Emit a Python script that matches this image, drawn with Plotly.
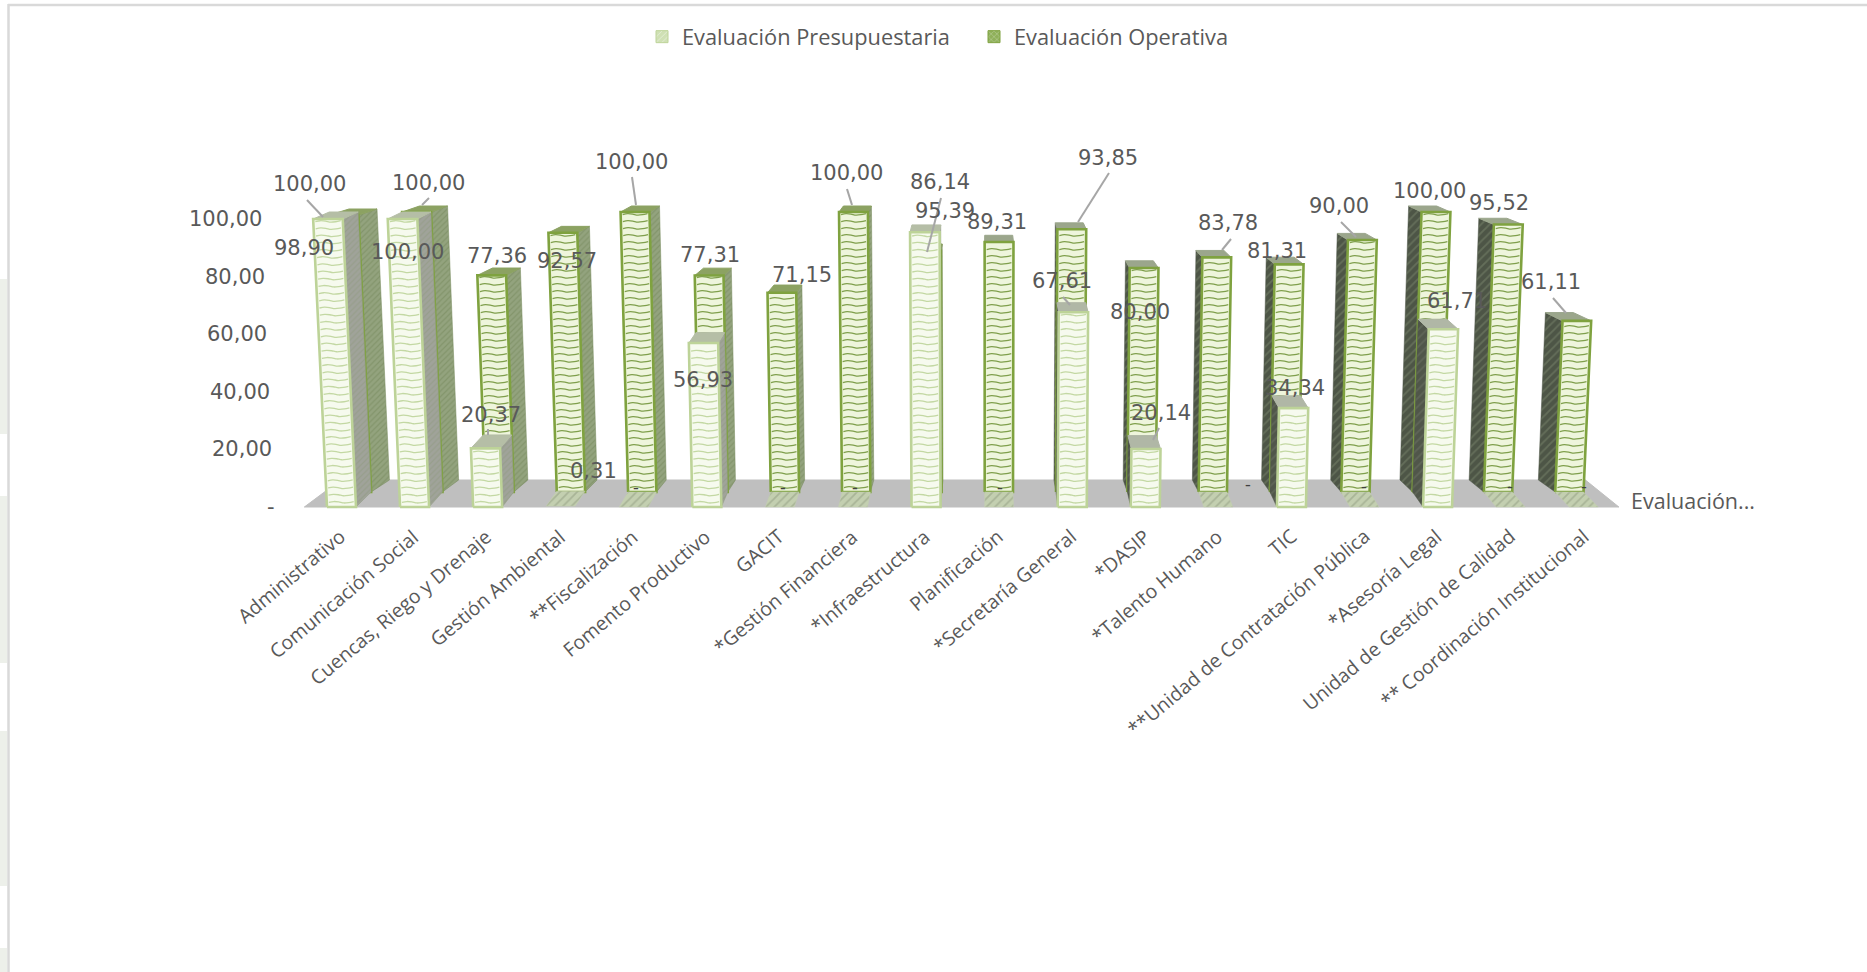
import plotly.graph_objects as go

# ---- data -------------------------------------------------------------
categories = ["Administrativo", "Comunicación Social", "Cuencas, Riego y Drenaje",
              "Gestión Ambiental", "**Fiscalización", "Fomento Productivo", "GACIT",
              "*Gestión Financiera", "*Infraestructura", "Planificación",
              "*Secretaría General", "*DASIP", "*Talento Humano", "TIC",
              "**Unidad de Contratación Pública", "*Asesoría Legal",
              "Unidad de Gestión de Calidad", "** Coordinación Institucional"]
presupuestaria = [100.00, 100.00, 20.37, 0.31, 0, 56.93, 0, 0, 95.39, 0,
                  67.61, 20.14, 0, 34.34, 0, 61.71, 0, 0]
operativa = [98.90, 100.00, 77.36, 92.57, 100.00, 77.31, 71.15, 100.00, 86.14, 89.31,
             93.85, 80.00, 83.78, 81.31, 90.00, 100.00, 95.52, 61.11]
y_ticks = [0, 20, 40, 60, 80, 100]
y_tick_labels = ["-", "20,00", "40,00", "60,00", "80,00", "100,00"]
series_names = ["Evaluación Presupuestaria", "Evaluación Operativa"]
depth_label = "Evaluación..."

# ---- perspective model of the 3-D column chart -------------------------
W, H = 1867, 972
VANISH_X = 987
BASE_Y = {0: 507, 1: 492, 2: 480}
UNIT_Y = {0: 2.88, 1: 2.80, 2: 2.74}
SCALE = {0: 1.0, 1: 0.976, 2: 0.947}
SLOT, FIRST_LEFT, BAR_W = 73.07, 327, 29
LEAN = 0.00021
WAVE_STEP = 2.5                        # value units between texture lines
WAVE_SHAPE = [(0.0, 0.1), (0.2, 0.4), (0.4, 0.25), (0.6, -0.1), (0.8, 0.05), (1.0, 0.4)]


def py(y_px):
    """pixel row -> value on the y axis"""
    return (BASE_Y[0] - y_px) / UNIT_Y[0]


def project(pos, value, depth):
    """slot position, value and depth -> axis coordinates"""
    x = VANISH_X + (FIRST_LEFT + SLOT * pos - VANISH_X) * SCALE[depth]
    x += (x - VANISH_X) * LEAN * value
    return x, py(BASE_Y[depth] - value * UNIT_Y[depth])


def poly(points):
    xs, ys = zip(*points)
    return list(xs) + [xs[0], None], list(ys) + [ys[0], None]


def add_polys(fig, polys, line, bg=None, fg=None, shape=None, size=6, sol=0.3, lw=1.0):
    xs, ys = [], []
    for p in polys:
        a, b = poly(p)
        xs += a
        ys += b
    if not xs:
        return
    kw = {}
    if shape:
        kw["fillpattern"] = dict(shape=shape, bgcolor=bg, fgcolor=fg, size=size, solidity=sol)
    fig.add_trace(go.Scatter(x=xs, y=ys, mode="lines", fill="toself", fillcolor=bg,
                             line=dict(color=line, width=lw), showlegend=False,
                             hoverinfo="skip", **kw))


def add_waves(fig, bars, depth, color, width):
    """wavy texture across the front face of each bar"""
    w = BAR_W / SLOT
    xs, ys = [], []
    for i, v in bars:
        level = WAVE_STEP * 0.6
        while level < v - 0.8:
            for frac, off in WAVE_SHAPE:
                x, y = project(i + 0.07 * w + 0.86 * w * frac, level + off, depth)
                xs.append(x)
                ys.append(y)
            xs.append(None)
            ys.append(None)
            level += WAVE_STEP
    if xs:
        fig.add_trace(go.Scatter(x=xs, y=ys, mode="lines",
                                 line=dict(color=color, width=width, shape="spline", smoothing=0.8),
                                 showlegend=False, hoverinfo="skip"))


def bar_faces(i, v, d0):
    w = BAR_W / SLOT
    d1 = d0 + 1
    fl, fr = project(i, v, d0), project(i + w, v, d0)
    fl0, fr0 = project(i, 0, d0), project(i + w, 0, d0)
    bl, br = project(i, v, d1), project(i + w, v, d1)
    bl0, br0 = project(i, 0, d1), project(i + w, 0, d1)
    front = [fl0, fr0, fr, fl]
    top = [fl, fr, br, bl]
    right = [fr0, br0, br, fr]
    left = [fl0, bl0, bl, fl]
    return front, top, left, right


fig = go.Figure()

# floor
n = len(categories)
add_polys(fig, [[project(-0.31, 0, 0), project(n - 1 + 0.68, 0, 0),
                 project(n - 1 + 0.68, 0, 2), project(-0.31, 0, 2)]], "#BFBFBF", bg="#BFBFBF")

STYLE = [
    dict(front_bg="#F6FAEE", wave="#C3D8A3", wave_w=1.3, edge="#BDD398", top_l="#B5BEA6", top_r="#B0B7A6",
         side_r=("#A0A39A", "#8E9A7E"), side_l=("#50564A", "#6E7465")),
    dict(front_bg="#EEF5DC", wave="#7F9F4C", wave_w=1.3, edge="#7FA23F", top_l="#8CA262", top_r="#9BA68C",
         side_r=("#93A37E", "#74885A"), side_l=("#4D5546", "#7C886D")),
]

for values, d0, st in ((operativa, 1, STYLE[1]), (presupuestaria, 0, STYLE[0])):
    idx = range(n)
    visible = [i for i in idx if values[i] > 0.5]
    faces = {i: bar_faces(i, values[i], d0) for i in idx}
    right_side = [faces[i][3] for i in visible if FIRST_LEFT + SLOT * i + BAR_W < VANISH_X]
    left_side = [faces[i][2] for i in visible if FIRST_LEFT + SLOT * i > VANISH_X]
    add_polys(fig, right_side, st["side_r"][1], st["side_r"][0], st["side_r"][1], "/", 4, 0.3, 0.5)
    add_polys(fig, left_side, st["side_l"][0], st["side_l"][0], st["side_l"][1], "/", 6, 0.3, 0.5)
    add_polys(fig, [faces[i][1] for i in visible if i < 9], st["top_l"], st["top_l"], lw=1)
    add_polys(fig, [faces[i][1] for i in visible if i >= 9], st["top_r"], st["top_r"], lw=1)
    flat = [faces[i][1] for i in idx if i not in visible]
    add_polys(fig, flat, "#C3CFB0", "#C3CFB0", "#8E9A7E", "/", 6, 0.3, 0.5)
    add_polys(fig, [faces[i][0] for i in visible], st["edge"], st["front_bg"], lw=2.6)
    add_waves(fig, [(i, values[i]) for i in visible], d0, st["wave"], st["wave_w"])

# legend keys
fig.add_trace(go.Bar(x=[None], y=[None], name=series_names[0],
                     marker=dict(color="#E6F0D6", line=dict(color="#BDD398", width=1),
                                 pattern=dict(shape="/", fgcolor="#FFFFFF", bgcolor="#CFE0B4", size=5))))
fig.add_trace(go.Bar(x=[None], y=[None], name=series_names[1],
                     marker=dict(color="#A9C47F", line=dict(color="#7FA23F", width=1),
                                 pattern=dict(shape="x", fgcolor="#FFFFFF", bgcolor="#8FB05A", size=5))))

# ---- text -------------------------------------------------------------
TXT = "#595959"
VAL_FONT = dict(family="DejaVu Sans", size=21, color=TXT)
CAT_FONT = dict(family="Open Sans", size=19.5, color=TXT)

annotations = []
for tick, lab in zip(y_ticks, y_tick_labels):
    annotations.append(dict(x=277 - tick * 0.13, y=tick, text=lab, showarrow=False, xanchor="right",
                            yanchor="middle", font=VAL_FONT))

for i, c in enumerate(categories):
    annotations.append(dict(x=FIRST_LEFT + SLOT * i + 27, y=py(520), text=c, showarrow=False,
                            textangle=-40, xanchor="right", yanchor="top", font=CAT_FONT))

annotations.append(dict(x=1629, y=py(500), text=depth_label, showarrow=False, xanchor="left",
                        yanchor="middle", font=dict(family="Open Sans", size=21.5, color=TXT)))


def fmt(v):
    return f"{v:.2f}".replace(".", ",")


# label placement in picture pixels: centre, optional leader line
PLACE_OP = {0: (304, 248), 1: (407, 252), 2: (497, 256), 3: (567, 261),
            4: (631, 162, 632, 177, 636, 205), 5: (710, 255), 6: (802, 275),
            7: (846, 173, 847, 189, 852, 205), 8: (940, 182, 941, 198, 927, 252),
            9: (997, 222), 10: (1108, 158, 1109, 173, 1078, 222), 11: (1140, 312),
            12: (1228, 223, 1231, 239, 1222, 250), 13: (1277, 251),
            14: (1339, 206, 1341, 222, 1356, 237), 15: (1429, 191), 16: (1499, 203),
            17: (1551, 282, 1553, 298, 1566, 313)}
PLACE_PR = {0: (309, 184, 307, 200, 323, 217), 1: (428, 183, 429, 198, 422, 205),
            2: (491, 415, 488, 429, 488, 435), 3: (593, 471), 5: (703, 380), 8: (945, 211),
            10: (1062, 281, 1063, 297, 1070, 305), 11: (1161, 413, 1159, 428, 1153, 440),
            13: (1295, 388), 15: (1457, 301)}
PLACE_ZERO = {4: (636, 487), 6: (783, 487), 7: (855, 487), 9: (1000, 487), 12: (1248, 484),
              14: (1364, 486), 16: (1510, 486), 17: (1584, 486)}

lead_x, lead_y = [], []
for values, place in ((operativa, PLACE_OP), (presupuestaria, PLACE_PR)):
    for i, p in place.items():
        annotations.append(dict(x=p[0], y=py(p[1]), text=fmt(values[i]), showarrow=False,
                                xanchor="center", yanchor="middle", font=VAL_FONT))
        if len(p) > 2:
            lead_x += [p[2], p[4], None]
            lead_y += [py(p[3]), py(p[5]), None]
for i, p in PLACE_ZERO.items():
    annotations.append(dict(x=p[0], y=py(p[1]), text="-", showarrow=False, xanchor="center",
                            yanchor="middle", font=dict(family="Open Sans", size=18, color="#404040")))

fig.add_trace(go.Scatter(x=lead_x, y=lead_y, mode="lines", line=dict(color="#A6A6A6", width=2),
                         showlegend=False, hoverinfo="skip"))

# page frame and faint background bands at the left edge
bands = [(279, 434), (496, 663), (731, 886), (948, 972)]
shapes = [dict(type="rect", xref="paper", yref="paper", x0=0, x1=7 / W, y0=1 - b / H, y1=1 - a / H,
               fillcolor="#EDF0EA", line_width=0, layer="below") for a, b in bands]
shapes += [
    dict(type="line", xref="paper", yref="paper", x0=8 / W, x1=1, y0=1 - 5 / H, y1=1 - 5 / H,
         line=dict(color="#D9D9D9", width=2.5)),
    dict(type="line", xref="paper", yref="paper", x0=8.5 / W, x1=8.5 / W, y0=0, y1=1 - 4 / H,
         line=dict(color="#D9D9D9", width=2.5)),
]

fig.update_layout(
    width=W, height=H, margin=dict(l=0, r=0, t=0, b=0),
    paper_bgcolor="white", plot_bgcolor="white",
    xaxis=dict(range=[0, W], visible=False, fixedrange=True),
    yaxis=dict(range=[py(H), py(0)], visible=False, fixedrange=True),
    annotations=annotations, shapes=shapes, barmode="overlay",
    legend=dict(orientation="h", x=642 / W, xanchor="left", y=1 - 37 / H, yanchor="middle",
                entrywidth=287, entrywidthmode="pixels",
                font=dict(family="Open Sans", size=21.8, color=TXT), itemclick=False, itemdoubleclick=False),
)

fig.write_html("out.html", config=dict(displayModeBar=False),
               post_script="document.body.style.margin='0';")
